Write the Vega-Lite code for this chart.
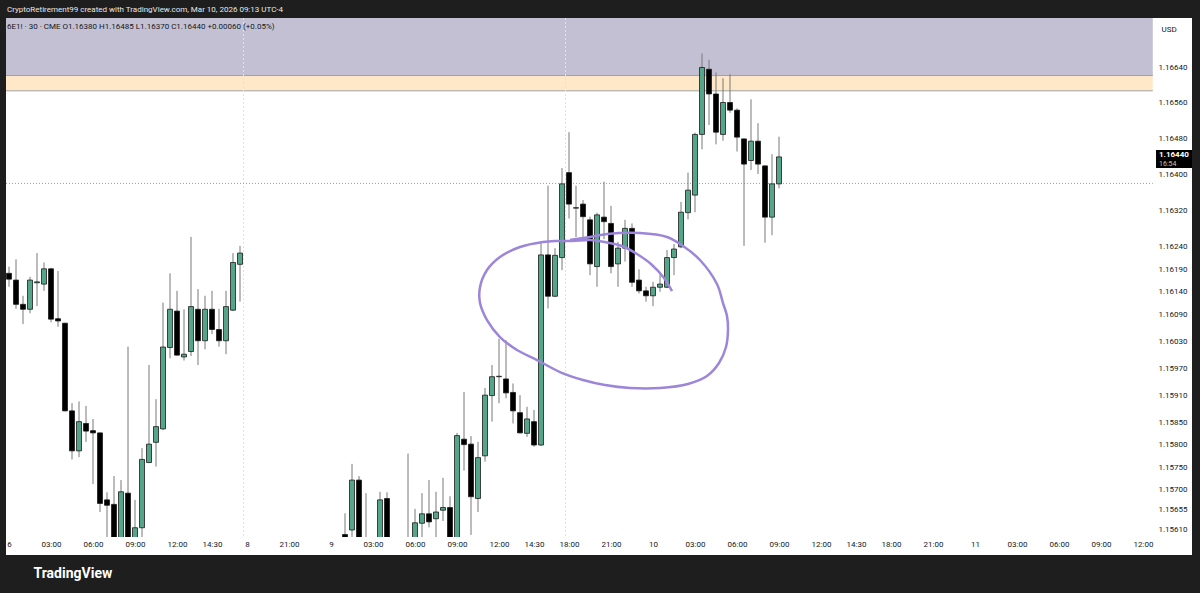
{
  "$schema": "https://vega.github.io/schema/vega-lite/v6.json",
  "width": 1186,
  "height": 537,
  "autosize": {"type": "none"},
  "padding": {"left": 6, "top": 18, "right": 8, "bottom": 38},
  "background": "#1e1e1e",
  "config": {"view": {"fill": "#ffffff", "stroke": null}, "font": "Roboto", "axis": {"labelOverlap": false}, "scale": {"continuousPadding": 0}},
  "title": {
    "text": "CryptoRetirement99 created with TradingView.com, Mar 10, 2026 09:13 UTC-4",
    "subtitle": "6E1! · 30 · CME  O1.16380  H1.16485  L1.16370  C1.16440  +0.00060 (+0.05%)",
    "anchor": "start", "frame": "group", "orient": "top", "offset": -13,
    "fontSize": 8, "fontWeight": "normal", "color": "#e8e8e8", "font": "Roboto",
    "subtitleFontSize": 8, "subtitleColor": "#131722", "subtitleFont": "Roboto", "subtitlePadding": 9, "dx": 1
  },
  "datasets": {
    "zones": [
      {"zone": "supply", "top": 1.16749, "bottom": 1.16621},
      {"zone": "edge", "top": 1.16621, "bottom": 1.16587}
    ],
    "breaks": [{"i": 33.5}, {"i": 79.5}],
    "last": [{"i": 110, "price": 1.1644, "label": "1.16440", "countdown": "16:54"}],
    "candles": [
      {"i":0,"o":1.16181,"h":1.16196,"l":1.16151,"c":1.16168},
      {"i":1,"o":1.16166,"h":1.16212,"l":1.16102,"c":1.16112},
      {"i":2,"o":1.16112,"h":1.16131,"l":1.16068,"c":1.16101},
      {"i":3,"o":1.16101,"h":1.16173,"l":1.16092,"c":1.16166},
      {"i":4,"o":1.16160,"h":1.16226,"l":1.16108,"c":1.16162},
      {"i":5,"o":1.16157,"h":1.16205,"l":1.16142,"c":1.16191},
      {"i":6,"o":1.16191,"h":1.16193,"l":1.16072,"c":1.16079},
      {"i":7,"o":1.16080,"h":1.16186,"l":1.16062,"c":1.16075},
      {"i":8,"o":1.16070,"h":1.16071,"l":1.15874,"c":1.15875},
      {"i":9,"o":1.15875,"h":1.15892,"l":1.15767,"c":1.15786},
      {"i":10,"o":1.15786,"h":1.15896,"l":1.15772,"c":1.15851},
      {"i":11,"o":1.15847,"h":1.15886,"l":1.15806,"c":1.15830},
      {"i":12,"o":1.15831,"h":1.15857,"l":1.15712,"c":1.15826},
      {"i":13,"o":1.15826,"h":1.15827,"l":1.15650,"c":1.15669},
      {"i":14,"o":1.15677,"h":1.15694,"l":1.15576,"c":1.15665},
      {"i":15,"o":1.15667,"h":1.15730,"l":1.15543,"c":1.15576},
      {"i":16,"o":1.15576,"h":1.15721,"l":1.15554,"c":1.15695},
      {"i":17,"o":1.15692,"h":1.16018,"l":1.15554,"c":1.15576},
      {"i":18,"o":1.15588,"h":1.15677,"l":1.15565,"c":1.15615},
      {"i":19,"o":1.15615,"h":1.15792,"l":1.15588,"c":1.15767},
      {"i":20,"o":1.15760,"h":1.15977,"l":1.15759,"c":1.15801},
      {"i":21,"o":1.15805,"h":1.15901,"l":1.15751,"c":1.15840},
      {"i":22,"o":1.15835,"h":1.16116,"l":1.15832,"c":1.16017},
      {"i":23,"o":1.16016,"h":1.16181,"l":1.15992,"c":1.16101},
      {"i":24,"o":1.16097,"h":1.16142,"l":1.15998,"c":1.15999},
      {"i":25,"o":1.15995,"h":1.16101,"l":1.15987,"c":1.16001},
      {"i":26,"o":1.16007,"h":1.16262,"l":1.15997,"c":1.16107},
      {"i":27,"o":1.16101,"h":1.16146,"l":1.15977,"c":1.16031},
      {"i":28,"o":1.16031,"h":1.16131,"l":1.16012,"c":1.16101},
      {"i":29,"o":1.16101,"h":1.16142,"l":1.16046,"c":1.16056},
      {"i":30,"o":1.16056,"h":1.16102,"l":1.16018,"c":1.16031},
      {"i":31,"o":1.16031,"h":1.16142,"l":1.16001,"c":1.16107},
      {"i":32,"o":1.16099,"h":1.16226,"l":1.16097,"c":1.16205},
      {"i":33,"o":1.16201,"h":1.16242,"l":1.16118,"c":1.16226},
      {"i":48,"o":1.15600,"h":1.15647,"l":1.15565,"c":1.15576},
      {"i":49,"o":1.15610,"h":1.15757,"l":1.15588,"c":1.15721},
      {"i":50,"o":1.15721,"h":1.15730,"l":1.15565,"c":1.15576},
      {"i":51,"o":1.15588,"h":1.15692,"l":1.15554,"c":1.15565},
      {"i":53,"o":1.15576,"h":1.15695,"l":1.15565,"c":1.15677},
      {"i":54,"o":1.15680,"h":1.15694,"l":1.15565,"c":1.15576},
      {"i":57,"o":1.15588,"h":1.15780,"l":1.15554,"c":1.15565},
      {"i":58,"o":1.15588,"h":1.15657,"l":1.15576,"c":1.15626},
      {"i":59,"o":1.15625,"h":1.15692,"l":1.15588,"c":1.15646},
      {"i":60,"o":1.15646,"h":1.15721,"l":1.15616,"c":1.15628},
      {"i":61,"o":1.15635,"h":1.15695,"l":1.15588,"c":1.15650},
      {"i":62,"o":1.15654,"h":1.15726,"l":1.15630,"c":1.15660},
      {"i":63,"o":1.15660,"h":1.15685,"l":1.15576,"c":1.15588},
      {"i":64,"o":1.15588,"h":1.15826,"l":1.15576,"c":1.15820},
      {"i":65,"o":1.15812,"h":1.15917,"l":1.15742,"c":1.15800},
      {"i":66,"o":1.15801,"h":1.15819,"l":1.15599,"c":1.15684},
      {"i":67,"o":1.15680,"h":1.15806,"l":1.15650,"c":1.15771},
      {"i":68,"o":1.15775,"h":1.15926,"l":1.15762,"c":1.15910},
      {"i":69,"o":1.15909,"h":1.15977,"l":1.15851,"c":1.15951},
      {"i":70,"o":1.15951,"h":1.16035,"l":1.15892,"c":1.15952},
      {"i":71,"o":1.15946,"h":1.16032,"l":1.15903,"c":1.15915},
      {"i":72,"o":1.15916,"h":1.15936,"l":1.15847,"c":1.15875},
      {"i":73,"o":1.15871,"h":1.15910,"l":1.15825,"c":1.15826},
      {"i":74,"o":1.15825,"h":1.15884,"l":1.15817,"c":1.15857},
      {"i":75,"o":1.15851,"h":1.15877,"l":1.15795,"c":1.15799},
      {"i":76,"o":1.15799,"h":1.16248,"l":1.15797,"c":1.16222},
      {"i":77,"o":1.16222,"h":1.16376,"l":1.16103,"c":1.16130},
      {"i":78,"o":1.16130,"h":1.16237,"l":1.16128,"c":1.16221},
      {"i":79,"o":1.16216,"h":1.16415,"l":1.16188,"c":1.16380},
      {"i":80,"o":1.16405,"h":1.16495,"l":1.16303,"c":1.16335},
      {"i":81,"o":1.16326,"h":1.16376,"l":1.16262,"c":1.16327},
      {"i":82,"o":1.16335,"h":1.16344,"l":1.16259,"c":1.16307},
      {"i":83,"o":1.16300,"h":1.16307,"l":1.16177,"c":1.16202},
      {"i":84,"o":1.16196,"h":1.16316,"l":1.16151,"c":1.16311},
      {"i":85,"o":1.16306,"h":1.16385,"l":1.16257,"c":1.16296},
      {"i":86,"o":1.16292,"h":1.16331,"l":1.16181,"c":1.16196},
      {"i":87,"o":1.16202,"h":1.16251,"l":1.16151,"c":1.16237},
      {"i":88,"o":1.16237,"h":1.16300,"l":1.16207,"c":1.16281},
      {"i":89,"o":1.16281,"h":1.16292,"l":1.16151,"c":1.16161},
      {"i":90,"o":1.16166,"h":1.16190,"l":1.16136,"c":1.16142},
      {"i":91,"o":1.16142,"h":1.16151,"l":1.16118,"c":1.16131},
      {"i":92,"o":1.16131,"h":1.16162,"l":1.16108,"c":1.16150},
      {"i":93,"o":1.16150,"h":1.16177,"l":1.16140,"c":1.16157},
      {"i":94,"o":1.16150,"h":1.16233,"l":1.16148,"c":1.16216},
      {"i":95,"o":1.16216,"h":1.16246,"l":1.16177,"c":1.16235},
      {"i":96,"o":1.16240,"h":1.16340,"l":1.16237,"c":1.16317},
      {"i":97,"o":1.16316,"h":1.16405,"l":1.16301,"c":1.16366},
      {"i":98,"o":1.16355,"h":1.16494,"l":1.16317,"c":1.16490},
      {"i":99,"o":1.16490,"h":1.16670,"l":1.16457,"c":1.16639},
      {"i":100,"o":1.16635,"h":1.16656,"l":1.16511,"c":1.16580},
      {"i":101,"o":1.16580,"h":1.16628,"l":1.16468,"c":1.16495},
      {"i":102,"o":1.16490,"h":1.16615,"l":1.16476,"c":1.16561},
      {"i":103,"o":1.16561,"h":1.16624,"l":1.16538,"c":1.16544},
      {"i":104,"o":1.16544,"h":1.16548,"l":1.16452,"c":1.16484},
      {"i":105,"o":1.16480,"h":1.16481,"l":1.16242,"c":1.16424},
      {"i":106,"o":1.16432,"h":1.16568,"l":1.16411,"c":1.16475},
      {"i":107,"o":1.16475,"h":1.16515,"l":1.16402,"c":1.16424},
      {"i":108,"o":1.16420,"h":1.16421,"l":1.16249,"c":1.16306},
      {"i":109,"o":1.16306,"h":1.16446,"l":1.16266,"c":1.16380},
      {"i":110,"o":1.16380,"h":1.16485,"l":1.16370,"c":1.16440}
    ],
    "curve": [
      {"k":1,"i":94.71,"p":1.161416},
      {"k":2,"i":93.57,"p":1.161705},
      {"k":3,"i":91.71,"p":1.162017},
      {"k":4,"i":89.71,"p":1.162239},
      {"k":5,"i":87.57,"p":1.162417},
      {"k":6,"i":85.14,"p":1.162506},
      {"k":7,"i":83.0,"p":1.162551},
      {"k":8,"i":80.43,"p":1.162528},
      {"k":9,"i":78.0,"p":1.162528},
      {"k":10,"i":76.29,"p":1.162506},
      {"k":11,"i":73.0,"p":1.162395},
      {"k":12,"i":70.14,"p":1.162172},
      {"k":13,"i":68.29,"p":1.161883},
      {"k":14,"i":67.29,"p":1.161505},
      {"k":15,"i":67.29,"p":1.161149},
      {"k":16,"i":68.29,"p":1.160771},
      {"k":17,"i":70.14,"p":1.160392},
      {"k":18,"i":72.57,"p":1.160103},
      {"k":19,"i":75.43,"p":1.159881},
      {"k":20,"i":78.71,"p":1.159614},
      {"k":21,"i":82.0,"p":1.159436},
      {"k":22,"i":85.14,"p":1.159324},
      {"k":23,"i":88.71,"p":1.159258},
      {"k":24,"i":93.0,"p":1.159258},
      {"k":25,"i":97.0,"p":1.159347},
      {"k":26,"i":99.71,"p":1.159525},
      {"k":27,"i":101.43,"p":1.159814},
      {"k":28,"i":102.43,"p":1.160170},
      {"k":29,"i":102.71,"p":1.160548},
      {"k":30,"i":102.57,"p":1.160860},
      {"k":31,"i":102.0,"p":1.161149},
      {"k":32,"i":101.14,"p":1.161572},
      {"k":33,"i":98.71,"p":1.162106},
      {"k":34,"i":96.29,"p":1.162417},
      {"k":35,"i":94.0,"p":1.162617},
      {"k":36,"i":90.14,"p":1.162706},
      {"k":37,"i":85.43,"p":1.162684},
      {"k":38,"i":83.0,"p":1.162617},
      {"k":39,"i":80.14,"p":1.162551}
    ]
  },
  "layer": [
    {
      "data": {"name": "zones"},
      "mark": {"type": "rect"},
      "encoding": {
        "x": {
          "datum": -0.4286, "type": "quantitative",
          "scale": {"domain": [-0.4286, 169.0], "nice": false, "zero": false, "padding": 0},
          "axis": {
            "orient": "bottom", "offset": -11, "domain": false, "ticks": false, "grid": false, "tickCount": 60,
            "values": [0,6,12,18,24,29,34,40,46,52,58,64,70,75,80,86,92,98,104,110,116,121,126,132,138,144,150,156,162],
            "labelExpr": "['6','03:00','06:00','09:00','12:00','14:30','8','21:00','9','03:00','06:00','09:00','12:00','14:30','18:00','21:00','10','03:00','06:00','09:00','12:00','14:30','18:00','21:00','11','03:00','06:00','09:00','12:00'][indexof([0,6,12,18,24,29,34,40,46,52,58,64,70,75,80,86,92,98,104,110,116,121,126,132,138,144,150,156,162], datum.value)]",
            "labelPadding": 0, "labelBaseline": "middle", "labelFontSize": 8, "labelColor": "#131722",
            "labelOverlap": false, "labelFlush": false, "zindex": 1,
            "title": "TradingView", "titleX": 27, "titleY": 29, "titleAlign": "left", "titleBaseline": "middle",
            "titleFontSize": 14, "titleFontWeight": "bold", "titleColor": "#ffffff"
          }
        },
        "x2": {"datum": 163.4},
        "y": {
          "field": "top", "type": "quantitative",
          "scale": {"domain": [1.1555435, 1.1674901], "nice": false, "zero": false, "padding": 0},
          "axis": {
            "orient": "right", "offset": -34, "domain": false, "ticks": false, "grid": false, "tickCount": 60,
            "values": [1.1664,1.1656,1.1648,1.164,1.1632,1.1624,1.1619,1.1614,1.1609,1.1603,1.1597,1.1591,1.1585,1.158,1.1575,1.157,1.15655,1.1561],
            "format": ".5f", "labelPadding": 0, "labelAlign": "left", "labelBaseline": "middle",
            "labelFontSize": 8, "labelColor": "#131722", "labelOverlap": false, "labelFlush": false, "zindex": 1,
            "title": "USD", "titleAngle": 0, "titleX": 3, "titleY": 11, "titleAlign": "left", "titleBaseline": "middle",
            "titleFontSize": 8, "titleFontWeight": "normal", "titleColor": "#131722"
          }
        },
        "y2": {"field": "bottom"},
        "fill": {"field": "zone", "type": "nominal", "scale": {"domain": ["supply", "edge"], "range": ["#c4c0d4", "#fee8c8"]}, "legend": null}
      }
    },
    {
      "data": {"name": "zones"},
      "mark": {"type": "rule", "color": "#a0a0a0", "strokeWidth": 1},
      "encoding": {
        "x": {"datum": -0.4286, "type": "quantitative"},
        "x2": {"datum": 163.4},
        "y": {"field": "bottom", "type": "quantitative"}
      }
    },
    {
      "data": {"name": "breaks"},
      "mark": {"type": "rule", "color": "#e2e2e2", "strokeWidth": 1, "strokeDash": [2, 2]},
      "encoding": {"x": {"field": "i", "type": "quantitative"}}
    },
    {
      "data": {"values": [{"level": 1.16381}]},
      "mark": {"type": "rule", "color": "#9a9a9a", "strokeWidth": 1, "strokeDash": [1, 2]},
      "encoding": {
        "x": {"datum": -0.4286, "type": "quantitative"},
        "x2": {"datum": 163.4},
        "y": {"field": "level", "type": "quantitative"}
      }
    },
    {
      "data": {"name": "candles"},
      "mark": {"type": "rule", "color": "#787878", "strokeWidth": 1, "clip": true},
      "encoding": {
        "x": {"field": "i", "type": "quantitative"},
        "y": {"field": "l", "type": "quantitative"},
        "y2": {"field": "h"}
      }
    },
    {
      "data": {"name": "candles"},
      "mark": {"type": "bar", "size": 5, "stroke": "#1c1c1c", "strokeWidth": 0.8, "clip": true},
      "encoding": {
        "x": {"field": "i", "type": "quantitative"},
        "y": {"field": "o", "type": "quantitative"},
        "y2": {"field": "c"},
        "fill": {"condition": {"test": "datum.c >= datum.o", "value": "#55a58a"}, "value": "#000000"}
      }
    },
    {
      "data": {"name": "curve"},
      "mark": {"type": "line", "color": "#9d86da", "strokeWidth": 2.5, "interpolate": "catmull-rom", "clip": true},
      "encoding": {
        "x": {"field": "i", "type": "quantitative"},
        "y": {"field": "p", "type": "quantitative"},
        "order": {"field": "k", "type": "quantitative"}
      }
    },
    {
      "data": {"name": "last"},
      "mark": {"type": "rect", "fill": "#ffffff"},
      "encoding": {
        "x": {"datum": -0.4286, "type": "quantitative"},
        "x2": {"datum": 169.0},
        "y": {"datum": 1.155943, "type": "quantitative"},
        "y2": {"datum": 1.1555435}
      }
    },
    {
      "data": {"name": "last"},
      "mark": {"type": "rect", "fill": "#000000"},
      "encoding": {
        "x": {"datum": 163.86, "type": "quantitative"},
        "x2": {"datum": 169.0},
        "y": {"datum": 1.164553, "type": "quantitative"},
        "y2": {"datum": 1.164153}
      }
    },
    {
      "data": {"name": "last"},
      "mark": {"type": "text", "align": "left", "baseline": "middle", "fontSize": 8, "fontWeight": "bold", "color": "#ffffff", "dy": -2},
      "encoding": {
        "x": {"datum": 164.29, "type": "quantitative"},
        "y": {"field": "price", "type": "quantitative"},
        "text": {"field": "label"}
      }
    },
    {
      "data": {"name": "last"},
      "mark": {"type": "text", "align": "left", "baseline": "middle", "fontSize": 7, "color": "#c8c8c8", "dy": 7},
      "encoding": {
        "x": {"datum": 164.29, "type": "quantitative"},
        "y": {"field": "price", "type": "quantitative"},
        "text": {"field": "countdown"}
      }
    }
  ]
}
